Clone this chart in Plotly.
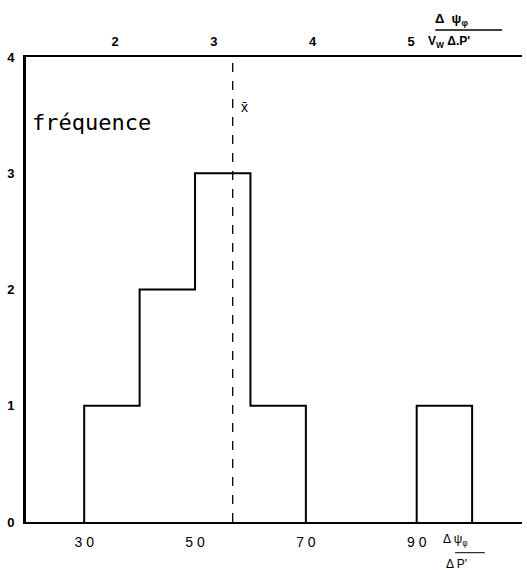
import plotly.graph_objects as go

# Data
bin_edges = [30, 40, 50, 60, 70, 80, 90, 100]
counts = [1, 2, 3, 1, 0, 0, 1]
mean_x = 56.8
bottom_ticks = [30, 50, 70, 90]
bottom_ticktext = ["3 0", "5 0", "7 0", "9 0"]
top_ticks = [2, 3, 4, 5]
top_scale = 17.8  # bottom units per top unit
y_ticks = [0, 1, 2, 3, 4]

x_range = [19.5, 109]

# step outline of the histogram, one outline per contiguous group of non-empty bins
groups = []
cur = None
for i, c in enumerate(counts):
    if c > 0:
        if cur is None:
            cur = [i, i]
        else:
            cur[1] = i
    else:
        if cur is not None:
            groups.append(cur)
            cur = None
if cur is not None:
    groups.append(cur)

fig = go.Figure()
for a, b in groups:
    sx = [bin_edges[a]] + bin_edges[a:b + 2]
    sy = [0] + counts[a:b + 1] + [0]
    fig.add_trace(go.Scatter(x=sx, y=sy, mode="lines", line=dict(color="black", width=2, shape="hv"),
                             showlegend=False, hoverinfo="skip"))
fig.add_trace(go.Scatter(x=[mean_x, mean_x], y=[0, 4], mode="lines",
                         line=dict(color="black", width=1.3, dash="dash"), showlegend=False))
# invisible trace on top axis
fig.add_trace(go.Scatter(x=[x_range[0] / top_scale, x_range[1] / top_scale], y=[0, 0], xaxis="x2",
                         mode="markers", marker=dict(opacity=0), showlegend=False, hoverinfo="skip"))

fig.update_layout(
    width=527, height=570,
    margin=dict(l=26, r=5, t=57, b=48),
    plot_bgcolor="white", paper_bgcolor="white",
    font=dict(family="Liberation Sans, Arial, sans-serif", color="black"),
    xaxis=dict(range=x_range, tickvals=bottom_ticks, ticktext=bottom_ticktext, showgrid=False,
               zeroline=False, showline=True, linecolor="black", linewidth=2, ticks="",
               tickfont=dict(size=14), ticklabelstandoff=6),
    xaxis2=dict(range=[x_range[0] / top_scale, x_range[1] / top_scale], overlaying="x", side="top",
                tickvals=top_ticks, ticktext=[str(t) for t in top_ticks], showgrid=False, zeroline=False,
                showline=True, linecolor="black", linewidth=2, ticks="",
                tickfont=dict(size=13, family="Liberation Sans, Arial", weight="bold"), ticklabelstandoff=4),
    yaxis=dict(range=[0, 4], tickvals=y_ticks, showgrid=False, zeroline=False, showline=True,
               linecolor="black", linewidth=3, ticks="",
               tickfont=dict(size=13, weight="bold"), ticklabelstandoff=6),
)

anns = [
    dict(x=0.008, y=0.89, xref="paper", yref="paper", text="fréquence", showarrow=False,
         xanchor="left", font=dict(size=22, family="DejaVu Sans Mono, monospace")),
    dict(x=mean_x + 1.2, y=0.915, xref="x", yref="paper", text="x\u0304", showarrow=False,
         xanchor="left", font=dict(size=14)),
    dict(x=0.895, y=1.059, xref="paper", yref="paper", text="<b>Δ  ψ<sub>φ</sub></b>", showarrow=False,
         yanchor="bottom", font=dict(size=13)),
    dict(x=0.9, y=1.054, xref="paper", yref="paper", text="<b>V<sub>W</sub> Δ.P'</b>", showarrow=False,
         yanchor="top", font=dict(size=12)),
    dict(x=0.895, y=-0.06, xref="paper", yref="paper", text="Δ ψ<sub>φ</sub>", showarrow=False,
         yanchor="bottom", font=dict(size=12)),
    dict(x=0.893, y=-0.07, xref="paper", yref="paper", text="Δ P'", showarrow=False,
         yanchor="top", font=dict(size=12)),
]
fig.update_layout(annotations=anns)
fig.add_shape(type="line", xref="paper", yref="paper", x0=0.825, x1=0.96, y0=1.058, y1=1.058,
              line=dict(color="black", width=1.5))
fig.add_shape(type="line", xref="paper", yref="paper", x0=0.865, x1=0.925, y0=-0.066, y1=-0.066,
              line=dict(color="black", width=1))

fig.write_html("out.html")
